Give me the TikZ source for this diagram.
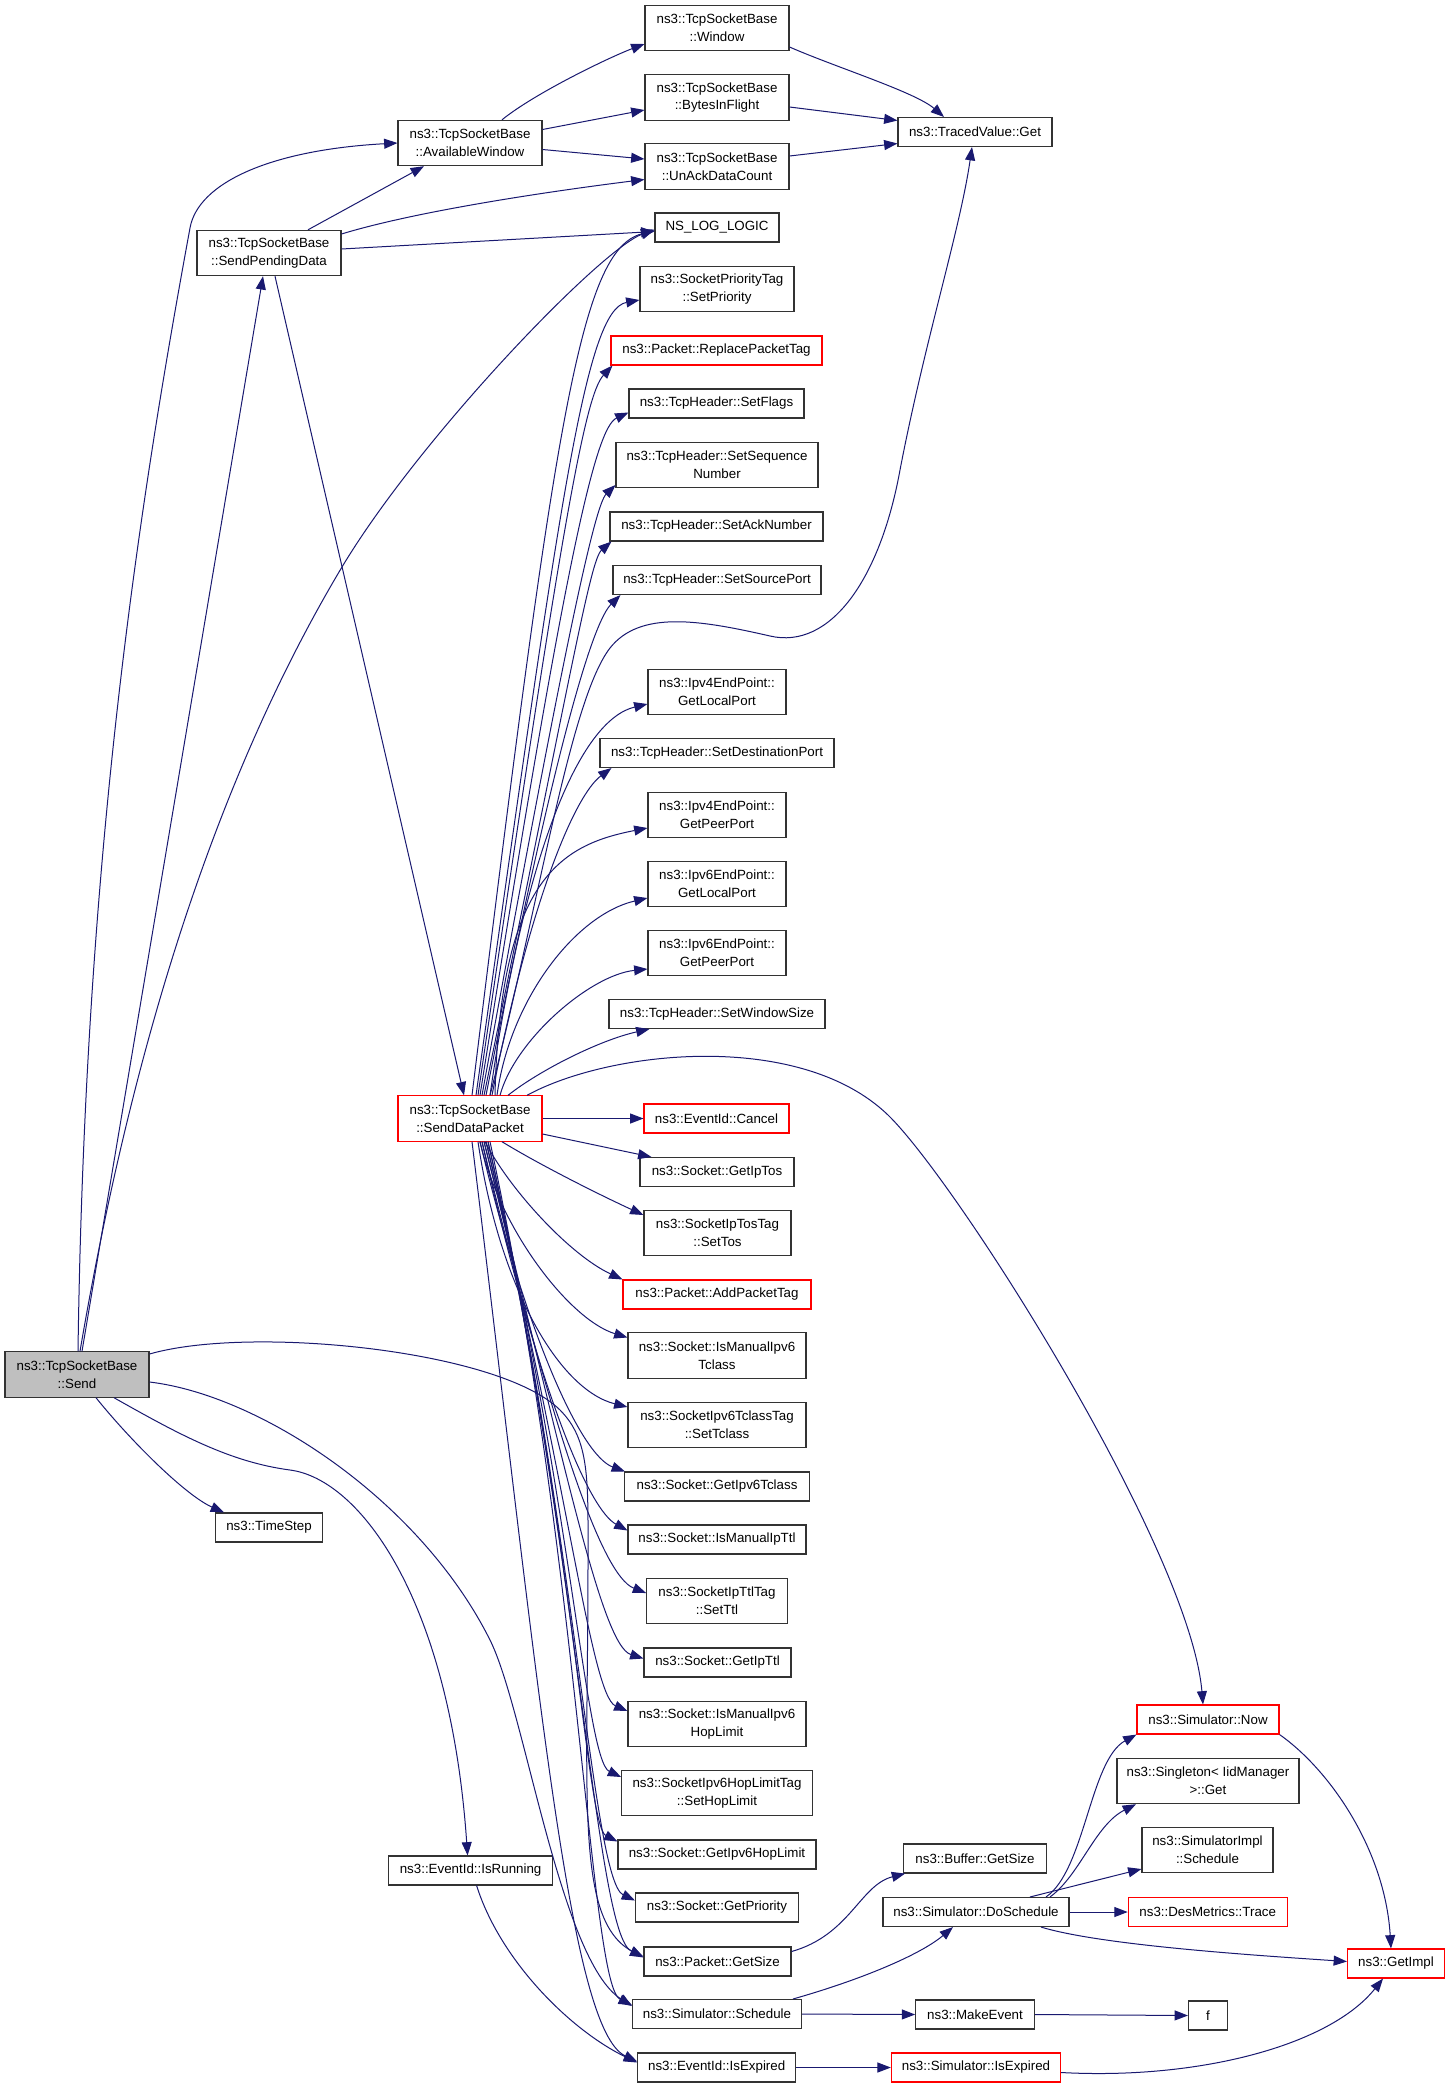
\documentclass[tikz,border=0pt]{standalone}
\usepackage{fontspec}
\setmainfont{Liberation Sans}
\usetikzlibrary{arrows.meta,calc}
\definecolor{edgeblue}{HTML}{191970}
\definecolor{rootgrey}{HTML}{BFBFBF}
\tikzset{
  box/.style={draw=black!80, line width=0.8pt, fill=white, inner sep=0pt, align=center,
    font=\fontsize{10}{13.3}\selectfont, minimum height=21.75pt},
  tall/.style={minimum height=34pt},
  trunc/.style={draw=red},
  root/.style={fill=rootgrey},
  e/.style={draw=edgeblue, line width=0.75pt, -{Triangle[length=10pt,width=7.5pt]}},
}
\begin{document}
\begin{tikzpicture}[x=0.75pt,y=-0.75pt]
\useasboundingbox (0,0) rectangle (1451,2088);
\fill[white] (0,0) rectangle (1451,2088);
% ---------- nodes ----------
\node[box,tall,minimum width=108pt] (window) at (717,28) {ns3::TcpSocketBase\\::Window};
\node[box,tall,minimum width=108pt] (bytes) at (717,97.5) {ns3::TcpSocketBase\\::BytesInFlight};
\node[box,tall,minimum width=108pt] (unack) at (717,166.5) {ns3::TcpSocketBase\\::UnAckDataCount};
\node[box,minimum width=115.5pt] (traced) at (975,132) {ns3::TracedValue::Get};
\node[box,tall,minimum width=108pt] (avail) at (470,143) {ns3::TcpSocketBase\\::AvailableWindow};
\node[box,tall,minimum width=108pt] (spd) at (269,253) {ns3::TcpSocketBase\\::SendPendingData};
\node[box,minimum width=93pt] (nslog) at (717,227.5) {NS\_LOG\_LOGIC};
\node[box,tall,minimum width=115.5pt] (setprio) at (717,289) {ns3::SocketPriorityTag\\::SetPriority};
\node[box,trunc,minimum width=158.25pt] (replace) at (716.5,350.5) {ns3::Packet::ReplacePacketTag};
\node[box,minimum width=131.25pt] (setflags) at (716.5,403.5) {ns3::TcpHeader::SetFlags};
\node[box,tall,minimum width=151.5pt] (setseq) at (717,465) {ns3::TcpHeader::SetSequence\\Number};
\node[box,minimum width=159.75pt] (setack) at (716.5,526.5) {ns3::TcpHeader::SetAckNumber};
\node[box,minimum width=156pt] (setsrc) at (717,580) {ns3::TcpHeader::SetSourcePort};
\node[box,tall,minimum width=103.5pt] (v4local) at (717,692) {ns3::Ipv4EndPoint::\\GetLocalPort};
\node[box,minimum width=175.5pt] (setdst) at (717,753) {ns3::TcpHeader::SetDestinationPort};
\node[box,tall,minimum width=103.5pt] (v4peer) at (717,815) {ns3::Ipv4EndPoint::\\GetPeerPort};
\node[box,tall,minimum width=103.5pt] (v6local) at (717,884) {ns3::Ipv6EndPoint::\\GetLocalPort};
\node[box,tall,minimum width=103.5pt] (v6peer) at (717,953) {ns3::Ipv6EndPoint::\\GetPeerPort};
\node[box,minimum width=162pt] (setwin) at (717,1014) {ns3::TcpHeader::SetWindowSize};
\node[box,tall,trunc,minimum width=108pt] (sdp) at (470,1118.5) {ns3::TcpSocketBase\\::SendDataPacket};
\node[box,trunc,minimum width=108.75pt] (cancel) at (716.5,1118.5) {ns3::EventId::Cancel};
\node[box,minimum width=115.5pt] (getiptos) at (717,1172) {ns3::Socket::GetIpTos};
\node[box,tall,minimum width=110.25pt] (settos) at (717.5,1233) {ns3::SocketIpTosTag\\::SetTos};
\node[box,trunc,minimum width=141pt] (addpackettag) at (717,1294.5) {ns3::Packet::AddPacketTag};
\node[box,tall,minimum width=133.5pt] (ismanv6tc) at (717,1355.5) {ns3::Socket::IsManualIpv6\\Tclass};
\node[box,tall,minimum width=133.5pt] (settclass) at (717,1425) {ns3::SocketIpv6TclassTag\\::SetTclass};
\node[box,minimum width=138.75pt] (getipv6tclass) at (717,1486.5) {ns3::Socket::GetIpv6Tclass};
\node[box,minimum width=133.5pt] (ismaniptl) at (717,1539.5) {ns3::Socket::IsManualIpTtl};
\node[box,tall,minimum width=105.5pt] (setttl) at (717,1601) {ns3::SocketIpTtlTag\\::SetTtl};
\node[box,minimum width=110.25pt] (getipttl) at (717.5,1662.5) {ns3::Socket::GetIpTtl};
\node[box,tall,minimum width=133.5pt] (ismanhop) at (717,1724) {ns3::Socket::IsManualIpv6\\HopLimit};
\node[box,tall,minimum width=143pt] (sethop) at (717,1793) {ns3::SocketIpv6HopLimitTag\\::SetHopLimit};
\node[box,minimum width=148.5pt] (getv6hop) at (717,1854.5) {ns3::Socket::GetIpv6HopLimit};
\node[box,minimum width=122.25pt] (getprio) at (717,1907.5) {ns3::Socket::GetPriority};
\node[box,minimum width=110.25pt] (pktgetsize) at (717.5,1961.5) {ns3::Packet::GetSize};
\node[box,minimum width=126.75pt] (simsched) at (717,2014) {ns3::Simulator::Schedule};
\node[box,minimum width=118.5pt] (isexpired) at (716.7,2067.5) {ns3::EventId::IsExpired};
\node[box,tall,root,minimum width=108pt] (send) at (77,1374.5) {ns3::TcpSocketBase\\::Send};
\node[box,minimum width=80pt] (timestep) at (269,1527.5) {ns3::TimeStep};
\node[box,minimum width=123pt] (isrunning) at (470.6,1870.5) {ns3::EventId::IsRunning};
\node[box,trunc,minimum width=106.5pt] (now) at (1208,1719.5) {ns3::Simulator::Now};
\node[box,tall,minimum width=136.5pt] (singleton) at (1208,1781) {ns3::Singleton< IidManager\\>::Get};
\node[box,tall,minimum width=98.25pt] (simimplsched) at (1207.5,1850) {ns3::SimulatorImpl\\::Schedule};
\node[box,trunc,minimum width=119.25pt] (desmetrics) at (1207.7,1912) {ns3::DesMetrics::Trace};
\node[box,minimum width=107pt] (buffergetsize) at (975,1858.5) {ns3::Buffer::GetSize};
\node[box,minimum width=139.5pt] (dosched) at (976,1912) {ns3::Simulator::DoSchedule};
\node[box,trunc,minimum width=72.75pt] (getimpl) at (1396,1963.5) {ns3::GetImpl};
\node[box,minimum width=89pt] (makeevent) at (975,2014.5) {ns3::MakeEvent};
\node[box,minimum width=29.25pt] (f) at (1208,2015.5) {f};
\node[box,trunc,minimum width=127pt] (simisexpired) at (976,2067.5) {ns3::Simulator::IsExpired};
% ---------- edges ----------
\draw[e] ($(avail.north)+(32,0)$) .. controls (535,93) and (610,57) .. ($(window.west)+(0,16)$);
\draw[e] ($(avail.east)+(0,-13.5)$) -- ($(bytes.west)+(0,12.5)$);
\draw[e] ($(avail.east)+(0,6.5)$) -- ($(unack.west)+(0,-7.5)$);
\draw[e] ($(window.east)+(0,19)$) .. controls (835,67) and (915,92) .. ($(traced.north)+(-31,0)$);
\draw[e] ($(bytes.east)+(0,9.5)$) -- ($(traced.west)+(0,-11.5)$);
\draw[e] ($(unack.east)+(0,-10.5)$) -- ($(traced.west)+(0,11.5)$);
\draw[e] ($(spd.north)+(39,0)$) -- ($(avail.south)+(-46,0)$);
\draw[e] ($(spd.east)+(0,-19)$) .. controls (420,210) and (560,190) .. ($(unack.west)+(0,13)$);
\draw[e] ($(spd.east)+(0,-4)$) -- ($(nslog.west)+(0,4)$);
\draw[e] ($(spd.south)+(6,0)$) -- ($(sdp.north)+(-6,0)$);
\draw[e] ($(send.north)+(5,0)$) -- ($(spd.south)+(-6,0)$);
\draw[e] ($(send.north)+(1,0)$) .. controls (85,850) and (140,500) .. (190,228) .. controls (198,183) and (270,150) .. (avail.west);
\draw[e] ($(send.north)+(3,0)$) .. controls (135,1028) and (223,766) .. (342,567) .. controls (420,437) and (600,250) .. ($(nslog.west)+(0,2)$);
\draw[e] ($(send.south)+(19,0)$) .. controls (130,1440) and (185,1495) .. ($(timestep.north)+(-45,0)$);
\draw[e] ($(send.south)+(37,0)$) .. controls (180,1435) and (230,1462) .. (290,1470) .. controls (360,1479) and (450,1600) .. ($(isrunning.north)+(-3,0)$);
\draw[e] ($(send.east)+(0,-20.5)$) .. controls (250,1325) and (500,1350) .. (560,1410) .. controls (590,1440) and (588,1480) .. (588,1560) .. controls (588,1800) and (575,1920) .. ($(pktgetsize.west)+(0,-4)$);
\draw[e] ($(send.east)+(0,7.5)$) .. controls (260,1395) and (420,1500) .. (490,1640) .. controls (525,1710) and (560,1960) .. ($(simsched.west)+(0,-8)$);
% SendDataPacket upwards
\draw[e] ($(sdp.north)+(2,0)$) .. controls (555,420) and (580,250) .. ($(nslog.west)+(0,3)$);
\draw[e] ($(sdp.north)+(6,0)$) .. controls (560,500) and (585,310) .. ($(setprio.west)+(0,11)$);
\draw[e] ($(sdp.north)+(8,0)$) .. controls (562,520) and (585,395) .. ($(replace.south west)+(2,0)$);
\draw[e] ($(sdp.north)+(10,0)$) .. controls (565,560) and (595,428) .. ($(setflags.west)+(0,9)$);
\draw[e] ($(sdp.north)+(12,0)$) .. controls (565,640) and (595,505) .. ($(setseq.west)+(0,20)$);
\draw[e] ($(sdp.north)+(14,0)$) .. controls (570,680) and (590,560) .. ($(setack.south west)+(2,0)$);
\draw[e] ($(sdp.north)+(16,0)$) .. controls (560,720) and (595,620) .. ($(setsrc.south west)+(8,0)$);
\draw[e] ($(sdp.north)+(20,0)$) .. controls (540,900) and (570,700) .. (610,648) .. controls (640,610) and (700,620) .. (770,636) .. controls (830,650) and (880,580) .. (900,470) .. controls (925,340) and (960,230) .. ($(traced.south)+(-3,0)$);
\draw[e] ($(sdp.north)+(20,0)$) .. controls (525,850) and (580,720) .. ($(v4local.west)+(0,12)$);
\draw[e] ($(sdp.north)+(22,0)$) .. controls (530,900) and (575,795) .. ($(setdst.south west)+(12,0)$);
\draw[e] ($(sdp.north)+(25,0)$) .. controls (500,880) and (560,845) .. ($(v4peer.west)+(0,13)$);
\draw[e] ($(sdp.north)+(27,0)$) .. controls (510,1000) and (575,915) .. ($(v6local.west)+(0,14)$);
\draw[e] ($(sdp.north)+(30,0)$) .. controls (515,1040) and (590,975) .. ($(v6peer.west)+(0,16)$);
\draw[e] ($(sdp.north)+(38,0)$) .. controls (540,1070) and (600,1040) .. ($(setwin.south west)+(41,0)$);
\draw[e] ($(sdp.north)+(57,0)$) .. controls (610,1050) and (800,1030) .. (888,1115) .. controls (958,1183) and (1190,1550) .. ($(now.north)+(-5,0)$);
% SendDataPacket right / downwards
\draw[e] (sdp.east) -- (cancel.west);
\draw[e] ($(sdp.east)+(0,15.5)$) -- ($(getiptos.north west)+(12,0)$);
\draw[e] ($(sdp.south)+(32,0)$) .. controls (540,1165) and (600,1195) .. ($(settos.west)+(0,-18)$);
\draw[e] ($(sdp.south)+(15,0)$) .. controls (510,1190) and (570,1255) .. (addpackettag.north west);
\draw[e] ($(sdp.south)+(10,0)$) .. controls (500,1230) and (570,1320) .. ($(ismanv6tc.west)+(0,-18)$);
\draw[e] ($(sdp.south)+(8,0)$) .. controls (500,1290) and (560,1390) .. ($(settclass.west)+(0,-18)$);
\draw[e] ($(sdp.south)+(10,0)$) .. controls (525,1330) and (580,1455) .. ($(getipv6tclass.north west)+(1,0)$);
\draw[e] ($(sdp.south)+(12,0)$) .. controls (540,1400) and (590,1510) .. ($(ismaniptl.west)+(0,-9)$);
\draw[e] ($(sdp.south)+(12,0)$) .. controls (550,1420) and (600,1575) .. ($(setttl.west)+(0,-8)$);
\draw[e] ($(sdp.south)+(14,0)$) .. controls (560,1440) and (600,1645) .. ($(getipttl.west)+(0,-4)$);
\draw[e] ($(sdp.south)+(14,0)$) .. controls (565,1460) and (590,1695) .. ($(ismanhop.west)+(0,-13)$);
\draw[e] ($(sdp.south)+(16,0)$) .. controls (570,1480) and (585,1760) .. ($(sethop.west)+(0,-16)$);
\draw[e] ($(sdp.south)+(16,0)$) .. controls (572,1500) and (585,1825) .. ($(getv6hop.west)+(0,-13)$);
\draw[e] ($(sdp.south)+(18,0)$) .. controls (575,1520) and (592,1880) .. ($(getprio.west)+(0,-7)$);
\draw[e] ($(sdp.south)+(18,0)$) .. controls (578,1540) and (595,1935) .. ($(pktgetsize.west)+(0,-5)$);
\draw[e] ($(sdp.south)+(20,0)$) .. controls (580,1560) and (590,1985) .. ($(simsched.west)+(0,-9)$);
\draw[e] ($(sdp.south)+(2,0)$) .. controls (540,1700) and (570,2030) .. ($(isexpired.west)+(0,-6)$);
% lower part
\draw[e] ($(isrunning.south)+(6,0)$) .. controls (500,1960) and (570,2030) .. ($(isexpired.west)+(0,-5)$);
\draw[e] ($(pktgetsize.east)+(0,-10)$) .. controls (850,1935) and (860,1885) .. ($(buffergetsize.south west)+(2,0)$);
\draw[e] ($(simsched.north)+(76,0)$) .. controls (860,1980) and (920,1955) .. ($(dosched.south)+(-23,0)$);
\draw[e] (simsched.east) -- (makeevent.west);
\draw[e] (makeevent.east) -- (f.west);
\draw[e] (isexpired.east) -- (simisexpired.west);
\draw[e] ($(simisexpired.east)+(0,5)$) .. controls (1200,2080) and (1330,2045) .. ($(getimpl.south)+(-13,0)$);
\draw[e] (now.south east) .. controls (1330,1770) and (1385,1850) .. ($(getimpl.north)+(-5,0)$);
\draw[e] ($(dosched.north)+(70,0)$) .. controls (1085,1870) and (1090,1760) .. (now.south west);
\draw[e] ($(dosched.north)+(74,0)$) .. controls (1080,1875) and (1095,1825) .. ($(singleton.south)+(-72,0)$);
\draw[e] ($(dosched.north)+(54,0)$) -- ($(simimplsched.west)+(0,19)$);
\draw[e] (dosched.east) -- (desmetrics.west);
\draw[e] ($(dosched.south)+(65,0)$) .. controls (1100,1945) and (1250,1955) .. ($(getimpl.west)+(0,-2)$);
\end{tikzpicture}
\end{document}
